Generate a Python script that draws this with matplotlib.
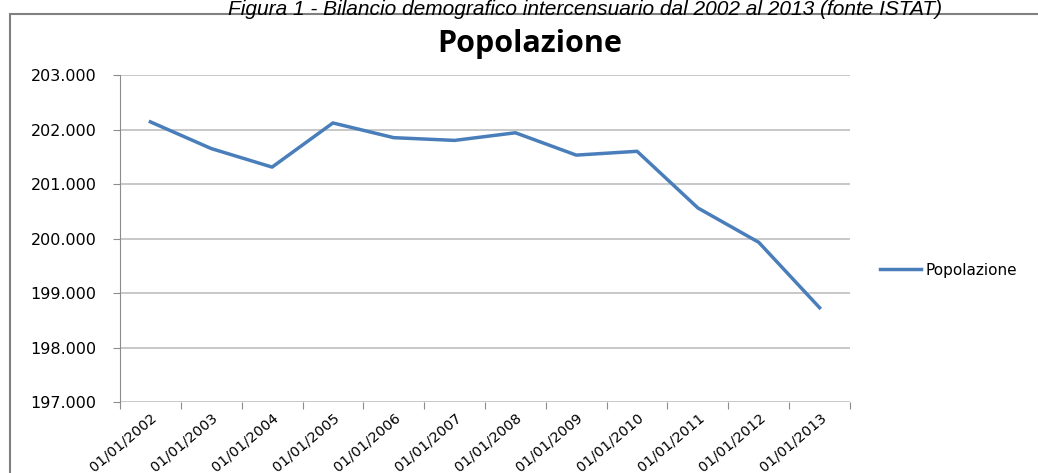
import matplotlib.pyplot as plt
from matplotlib.patches import Rectangle

anni = ['01/01/2002', '01/01/2003', '01/01/2004', '01/01/2005', '01/01/2006', '01/01/2007',
        '01/01/2008', '01/01/2009', '01/01/2010', '01/01/2011', '01/01/2012', '01/01/2013']
popolazione = [202140, 201650, 201310, 202120, 201850, 201800,
               201940, 201530, 201600, 200560, 199930, 198730]
y_ticks = [197000, 198000, 199000, 200000, 201000, 202000, 203000]
y_labels = ['197.000', '198.000', '199.000', '200.000', '201.000', '202.000', '203.000']

blu = '#4a7ebb'
grigio = '#bfbfbf'

fig = plt.figure(figsize=(10.38, 4.73), dpi=100)

# cornice del grafico
fig.patches.append(Rectangle((10/1038, -0.01), 1.02, (473-14)/473 + 0.01, transform=fig.transFigure,
                             fill=False, edgecolor='#808080', lw=1.5))

fig.text(585/1038, 1 - 15/473, 'Figura 1 - Bilancio demografico intercensuario dal 2002 al 2013 (fonte ISTAT)',
         ha='center', va='baseline', fontsize=15, style='italic', family='Liberation Sans')

axes = fig.add_axes([120/1038, 71/473, 730/1038, 327/473])
x = range(len(anni))
axes.plot(x, popolazione, color=blu, lw=2.5, label='Popolazione')
axes.set_xlim(-0.5, len(anni) - 0.5)
axes.set_ylim(197000, 203000)
axes.set_yticks(y_ticks)
axes.set_yticklabels(y_labels, family='DejaVu Sans', fontsize=11.5)
axes.set_xticks([i - 0.5 for i in range(len(anni) + 1)])
axes.set_xticklabels([])
axes.set_xticks(list(x), minor=True)
axes.set_xticklabels(anni, minor=True, rotation=40, ha='right', rotation_mode='anchor',
                     family='DejaVu Sans', fontsize=10.3)
axes.tick_params(axis='x', which='minor', length=0, pad=6)
axes.tick_params(axis='x', which='major', length=5, color='#8c8c8c')
axes.tick_params(axis='y', length=5, color='#8c8c8c', pad=12)
axes.grid(axis='y', color=grigio, lw=1.2)
axes.set_axisbelow(True)
for s in ['top', 'right', 'bottom']:
    axes.spines[s].set_visible(False)
axes.spines['left'].set_color('#8c8c8c')

fig.text(530/1038, 1 - 44/473, 'Popolazione', ha='center', va='center', fontsize=22,
         fontweight='bold', family='Open Sans')

fig.legend(loc='center left', bbox_to_anchor=(874/1038, 1 - 270/473), frameon=False,
           prop={'family': 'DejaVu Sans', 'size': 11}, handlelength=2.7, handletextpad=0.3,
           borderaxespad=0)

plt.savefig('out.png', dpi=100)
